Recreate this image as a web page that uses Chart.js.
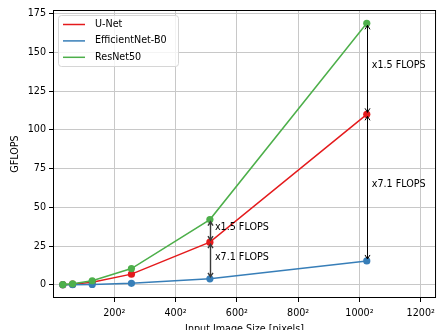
<!DOCTYPE html>
<html>
<head>
<meta charset="utf-8">
<script src="https://cdn.jsdelivr.net/npm/chart.js@4.4.1/dist/chart.umd.min.js"></script>
<style>
  html, body { margin: 0; padding: 0; background: #fff; }
  #wrap { width: 441px; height: 330px; }
</style>
</head>
<body>
<div id="wrap"><canvas id="chart-flops"></canvas></div>
<script>
// values
var imageSizes = [32, 64, 128, 256, 512, 1024];
var unetFlops = [0.11, 0.43, 1.72, 6.9, 27.5, 110.0];
var effnetFlops = [0.015, 0.06, 0.24, 0.97, 3.9, 15.4];
var resnetFlops = [0.16, 0.66, 2.64, 10.5, 42.1, 168.7];
var seriesNames = ["U-Net", "EfficientNet-B0", "ResNet50"];
var seriesColors = ["#e41a1c", "#377eb8", "#4daf4a"];
var xTicks = [200, 400, 600, 800, 1000, 1200];
var yTicks = [0, 25, 50, 75, 100, 125, 150, 175];
var ratioLabels = ["x1.5 FLOPS", "x7.1 FLOPS"];
var ratioIndexes = [4, 5]; // which image sizes get the ratio arrows

(function () {
  "use strict";

  var FONT = "'DejaVu Sans', sans-serif";
  var seriesValues = [unetFlops, effnetFlops, resnetFlops];

  function points(values) {
    return imageSizes.map(function (s, i) { return { x: s, y: values[i] }; });
  }

  function arrow(ctx, x, yA, yB) {
    var dir = yB > yA ? 1 : -1;
    var a = yA + 2 * dir, b = yB - 2 * dir;
    ctx.beginPath();
    ctx.moveTo(x, a);
    ctx.lineTo(x, b);
    // open heads at both ends
    ctx.moveTo(x - 2.5, a + 4 * dir);
    ctx.lineTo(x, a);
    ctx.lineTo(x + 2.5, a + 4 * dir);
    ctx.moveTo(x - 2.5, b - 4 * dir);
    ctx.lineTo(x, b);
    ctx.lineTo(x + 2.5, b - 4 * dir);
    ctx.stroke();
  }

  var overlay = {
    id: "overlay",
    afterDatasetsDraw: function (chart) {
      var ctx = chart.ctx, area = chart.chartArea;
      var xs = chart.scales.x, ys = chart.scales.y;
      ctx.save();

      // ratio arrows: ResNet50 vs U-Net, U-Net vs EfficientNet
      ctx.fillStyle = "#000";
      ctx.font = "9.6px " + FONT;
      ctx.textBaseline = "middle";
      ctx.textAlign = "left";
      ratioIndexes.forEach(function (idx) {
        var px = xs.getPixelForValue(imageSizes[idx]);
        var ax = Math.round(px) + 0.5;
        var pairs = [[resnetFlops[idx], unetFlops[idx]], [unetFlops[idx], effnetFlops[idx]]];
        ctx.strokeStyle = idx === ratioIndexes[0] ? "#3a3a3a" : "#000";
        ctx.lineWidth = idx === ratioIndexes[0] ? 1.4 : 1;
        pairs.forEach(function (p, k) {
          var y1 = ys.getPixelForValue(p[0]), y2 = ys.getPixelForValue(p[1]);
          arrow(ctx, ax, y1, y2);
          ctx.fillText(ratioLabels[k], px + 5, (y1 + y2) / 2 - 3);
        });
      });

      // frame
      ctx.strokeStyle = "#000";
      ctx.lineWidth = 1;
      ctx.strokeRect(area.left + 0.5, area.top + 0.5, area.right - area.left - 1, area.bottom - area.top - 1);

      // legend box, upper left
      var lx = area.left + 5.5, ly = area.top + 5.5, lw = 120, lh = 51;
      ctx.beginPath();
      ctx.roundRect(lx, ly, lw, lh, 3);
      ctx.fillStyle = "rgba(255,255,255,0.8)";
      ctx.fill();
      ctx.strokeStyle = "#d6d6d6";
      ctx.stroke();
      seriesNames.forEach(function (name, i) {
        var y = ly + 9 + i * 16.4;
        ctx.strokeStyle = seriesColors[i];
        ctx.lineWidth = 1.5;
        ctx.beginPath();
        ctx.moveTo(lx + 4.5, y);
        ctx.lineTo(lx + 26.5, y);
        ctx.stroke();
        ctx.fillStyle = "#000";
        ctx.fillText(name, lx + 36.5, y);
      });

      // axis titles
      ctx.textAlign = "center";
      ctx.fillText("Input Image Size [pixels]", (area.left + area.right) / 2, 329);
      ctx.translate(15, (area.top + area.bottom) / 2);
      ctx.rotate(-Math.PI / 2);
      ctx.fillText("GFLOPS", 0, 0);
      ctx.restore();
    },
  };

  var ctx = document.getElementById("chart-flops").getContext("2d");
  new Chart(ctx, {
    type: "line",
    data: {
      datasets: seriesNames.map(function (name, i) {
        return {
          label: name,
          data: points(seriesValues[i]),
          borderColor: seriesColors[i],
          backgroundColor: seriesColors[i],
          pointBackgroundColor: seriesColors[i],
          pointBorderWidth: 0,
          pointRadius: 3.6,
          borderWidth: 1.5,
          tension: 0,
          fill: false,
          order: seriesNames.length - i,
        };
      }),
    },
    options: {
      responsive: true,
      maintainAspectRatio: false,
      animation: false,
      layout: { padding: { left: 0, right: 2, top: 10, bottom: 0 } },
      plugins: { legend: { display: false }, tooltip: { enabled: false } },
      scales: {
        x: {
          type: "linear",
          min: 0,
          max: 1250,
          afterBuildTicks: function (s) { s.ticks = xTicks.map(function (v) { return { value: v }; }); },
          afterFit: function (s) { s.height = 32; },
          grid: { color: "#c8c8c8", lineWidth: 1, tickColor: "#000", tickLength: 4 },
          border: { display: false },
          ticks: {
            color: "#000",
            padding: 6,
            maxRotation: 0,
            font: { family: FONT, size: 9.6 },
            callback: function (v) { return v + "\u00b2"; },
          },
        },
        y: {
          min: -8.5,
          max: 177.3,
          afterBuildTicks: function (s) { s.ticks = yTicks.map(function (v) { return { value: v }; }); },
          afterFit: function (s) { s.width = 53; },
          grid: { color: "#c8c8c8", lineWidth: 1, tickColor: "#000", tickLength: 4 },
          border: { display: false },
          ticks: { color: "#000", padding: 3, font: { family: FONT, size: 9.6 } },
        },
      },
    },
    plugins: [overlay],
  });
})();
</script>
</body>
</html>
